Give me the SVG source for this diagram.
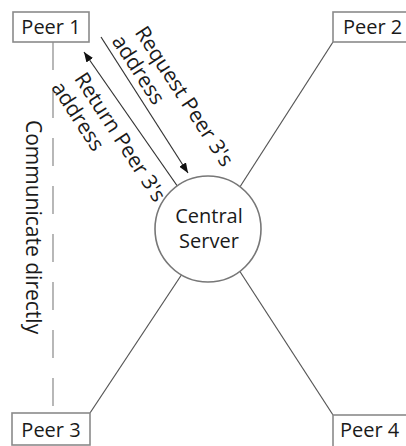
<svg xmlns="http://www.w3.org/2000/svg" width="406" height="446" viewBox="0 0 406 446">
<style>
.lbl{font-family:"Open Sans","Noto Sans","Liberation Sans",sans-serif;font-size:20px;fill:#1a1a1a}
.big{font-size:21px}
.box{fill:#fff;stroke:#8a8a8a;stroke-width:1.6}
.link{stroke:#555;stroke-width:1.2;fill:none}
.msg{stroke:#333;stroke-width:1.2;fill:none}
</style>
<defs>
<marker id="ah" viewBox="0 0 10 8" refX="10" refY="4" markerWidth="10" markerHeight="8" markerUnits="userSpaceOnUse" orient="auto">
<path d="M0,0 L10,4 L0,8 Z" fill="#111"/>
</marker>
</defs>
<rect width="406" height="446" fill="#fff"/>
<g id="connectors">
<line class="link" x1="333" y1="42" x2="236" y2="193"/>
<line class="link" x1="90" y1="413" x2="186" y2="268"/>
<line class="link" x1="333" y1="415" x2="237" y2="267"/>
<line x1="53" y1="42" x2="53" y2="413" stroke="#9a9a9a" stroke-width="1.4" stroke-dasharray="28 20"/>
<line class="msg" x1="101" y1="37" x2="188" y2="173" marker-end="url(#ah)"/>
<line class="msg" x1="178" y1="187" x2="84" y2="52" marker-end="url(#ah)"/>
<g transform="rotate(57)">
<text class="lbl big" x="100" y="-95">Request Peer 3's</text>
<text class="lbl big" x="95" y="-71">address</text>
<text class="lbl big" x="106" y="-19">Return Peer 3's</text>
<text class="lbl big" x="101" y="5">address</text>
</g>
<text class="lbl big" transform="translate(26,120) rotate(90)">Communicate directly</text>
</g>
<g id="server">
<circle cx="208" cy="229" r="53" fill="#fff" stroke="#777" stroke-width="1.6"/>
<text class="lbl" x="209" y="223" text-anchor="middle" font-size="20.5">Central</text>
<text class="lbl" x="209" y="248" text-anchor="middle" font-size="20.5">Server</text>
</g>
<g id="peer1">
<rect class="box" x="13" y="12" width="76" height="30"/>
<text class="lbl" x="51" y="34" text-anchor="middle">Peer 1</text>
</g>
<g id="peer2">
<rect class="box" x="333" y="12" width="76" height="30"/>
<text class="lbl" x="343" y="34">Peer 2</text>
</g>
<g id="peer3">
<rect class="box" x="12" y="413" width="78" height="32"/>
<text class="lbl" x="51" y="437" text-anchor="middle">Peer 3</text>
</g>
<g id="peer4">
<rect class="box" x="333" y="415" width="76" height="32"/>
<text class="lbl" x="340" y="437">Peer 4</text>
</g>
</svg>
